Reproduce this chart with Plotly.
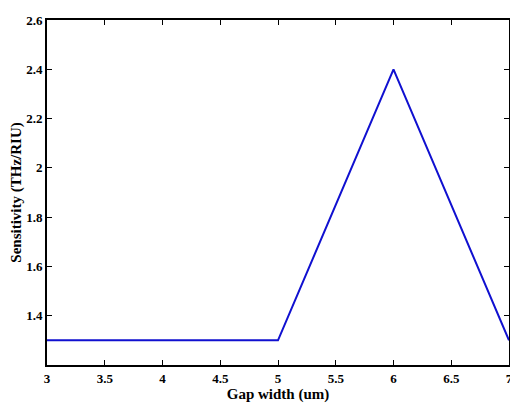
import plotly.graph_objects as go

gap_width = [3, 4, 5, 6, 7]
sensitivity = [1.3, 1.3, 1.3, 2.4, 1.3]
x_ticks = [3, 3.5, 4, 4.5, 5, 5.5, 6, 6.5, 7]
x_tick_labels = ["3", "3.5", "4", "4.5", "5", "5.5", "6", "6.5", "7"]
y_ticks = [1.4, 1.6, 1.8, 2.0, 2.2, 2.4, 2.6]
y_tick_labels = ["1.4", "1.6", "1.8", "2", "2.2", "2.4", "2.6"]

tick_font = dict(family="Liberation Serif, Times New Roman, serif", size=13, color="black", weight="bold")
title_font = dict(family="Liberation Serif, Times New Roman, serif", size=15, color="black", weight="bold")

fig = go.Figure()
fig.add_trace(go.Scatter(x=gap_width, y=sensitivity, mode="lines",
                         line=dict(color="#1010d0", width=2), showlegend=False))

axis_common = dict(showgrid=False, zeroline=False, showline=True, linecolor="black",
                   linewidth=2, mirror="ticks", ticks="inside", ticklen=5,
                   tickwidth=1, tickcolor="black", tickfont=tick_font,
                   ticklabeloverflow="allow")

fig.update_xaxes(range=[3, 7], tickvals=x_ticks, ticktext=x_tick_labels,
                 title=dict(text="Gap width (um)", font=title_font, standoff=0), **axis_common)
fig.update_yaxes(range=[1.2, 2.6], tickvals=y_ticks, ticktext=y_tick_labels,
                 title=dict(text="Sensitivity (THz/RIU)", font=title_font, standoff=3), **axis_common)

# page body has an 8px margin, so the figure is sized to the visible area
fig.update_layout(width=510, height=400, margin=dict(l=38, r=5, t=6, b=43),
                  plot_bgcolor="white", paper_bgcolor="white", font=tick_font)

fig.write_html("out.html")
